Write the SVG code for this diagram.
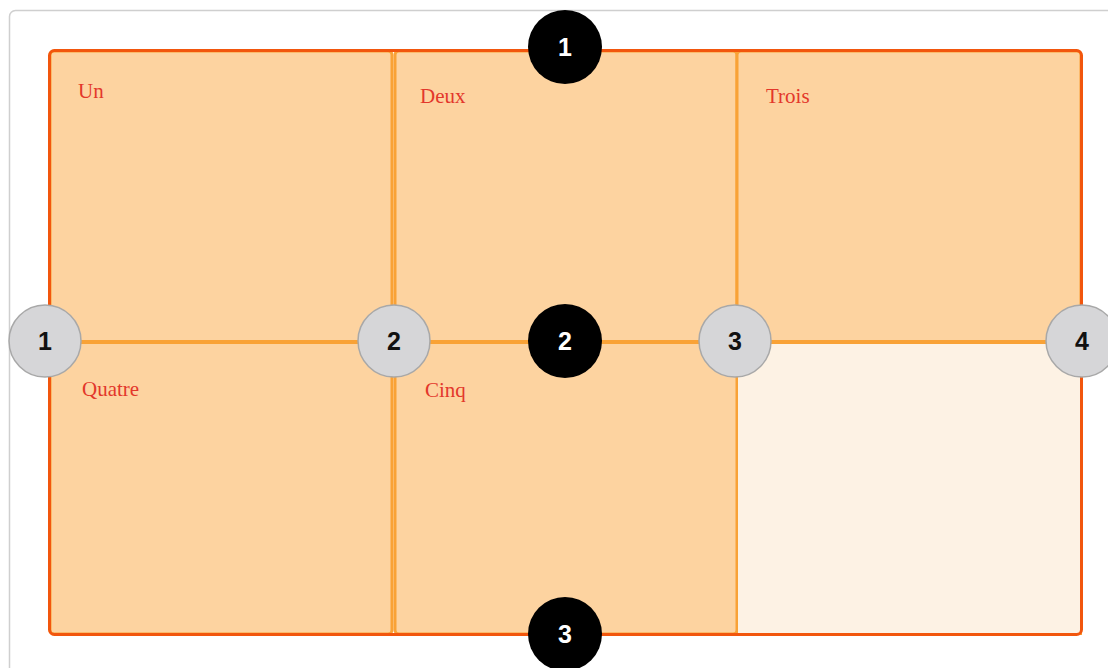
<svg xmlns="http://www.w3.org/2000/svg" width="1108" height="668" viewBox="0 0 1108 668">
<style>
.cell{fill:#fdd3a0;stroke:#f9a236;stroke-width:3}
.empty{fill:#fdf2e4;stroke:#f9a236;stroke-width:2}
.lbl{font-family:"Liberation Serif",serif;font-size:21px;fill:#e3372b}
.gc{fill:#d6d6d8;stroke:#a8a8a8;stroke-width:1.5}
.bc{fill:#000}
.gt{font-family:"Liberation Sans",Arial,sans-serif;font-size:25px;font-weight:bold;fill:#111;text-anchor:middle}
.bt{font-family:"Liberation Sans",Arial,sans-serif;font-size:25px;font-weight:bold;fill:#fff;text-anchor:middle}
</style>
<rect x="0" y="0" width="1108" height="668" fill="#fff"/>
<rect x="9.5" y="10.5" width="1110" height="680" rx="6" fill="#fff" stroke="#cfcfcf" stroke-width="1.5"/>
<g id="cell-un"><rect class="cell" x="50" y="51" width="342" height="291" rx="4"/><text class="lbl" x="78" y="98">Un</text></g>
<g id="cell-deux"><rect class="cell" x="395" y="51" width="342" height="291" rx="4"/><text class="lbl" x="420" y="103">Deux</text></g>
<g id="cell-trois"><rect class="cell" x="737" y="51" width="344" height="291" rx="4"/><text class="lbl" x="766" y="103">Trois</text></g>
<g id="cell-quatre"><rect class="cell" x="50" y="342" width="342" height="292" rx="4"/><text class="lbl" x="82" y="396">Quatre</text></g>
<g id="cell-cinq"><rect class="cell" x="395" y="342" width="342" height="292" rx="4"/><text class="lbl" x="425" y="397">Cinq</text></g>
<g id="cell-empty"><rect class="empty" x="737" y="342" width="344" height="292"/></g>
<g id="container"><rect x="49.5" y="50.5" width="1032" height="584" rx="5" fill="none" stroke="#f2560d" stroke-width="3"/></g>
<g id="connectors">
<line x1="45" y1="342" x2="1082" y2="342" stroke="#f9a236" stroke-width="4"/>
</g>
<g id="col-line-1"><circle class="gc" cx="45" cy="341" r="36"/><text class="gt" x="45" y="350">1</text></g>
<g id="col-line-2"><circle class="gc" cx="394" cy="341" r="36"/><text class="gt" x="394" y="350">2</text></g>
<g id="col-line-3"><circle class="gc" cx="735" cy="341" r="36"/><text class="gt" x="735" y="350">3</text></g>
<g id="col-line-4"><circle class="gc" cx="1082" cy="341" r="36"/><text class="gt" x="1082" y="350">4</text></g>
<g id="row-line-1"><circle class="bc" cx="565" cy="47" r="37"/><text class="bt" x="565" y="56">1</text></g>
<g id="row-line-2"><circle class="bc" cx="565" cy="341" r="37"/><text class="bt" x="565" y="350">2</text></g>
<g id="row-line-3"><circle class="bc" cx="565" cy="634" r="37"/><text class="bt" x="565" y="643">3</text></g>
</svg>
